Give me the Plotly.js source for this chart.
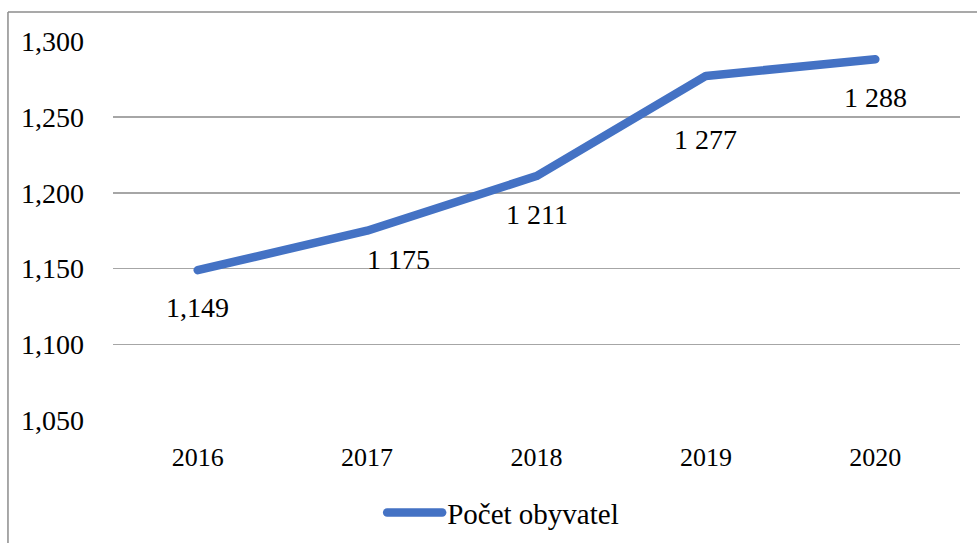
<!DOCTYPE html>
<html>
<head>
<meta charset="utf-8">
<script src="https://cdn.plot.ly/plotly-3.0.1.min.js"></script>
<style>
html,body{margin:0;padding:0;background:#fff;}
#chart{width:977px;height:543px;}
.js-line{stroke-linecap:round;stroke-linejoin:round;}
</style>
</head>
<body>
<div id="chart"></div>
<script>
const years = ['2016', '2017', '2018', '2019', '2020'];
const population = [1149, 1175, 1211, 1277, 1288];
const valueLabels = ['1,149', '1 175', '1 211', '1 277', '1 288'];
const yTicks = [1050, 1100, 1150, 1200, 1250, 1300];
const seriesName = 'Počet obyvatel';

const labelShiftX = [0, 31, 0, 0, 0];
const labelShiftY = [-37, -29, -38, -64, -38];

const font = '"Liberation Serif", "Times New Roman", Times, serif';
const blue = '#4472C4';

const trace = {
  x: years, y: population, type: 'scatter', mode: 'lines', name: seriesName,
  line: {color: blue, width: 8.5}, hoverinfo: 'skip'
};

const annotations = years.map((yr, i) => ({
  x: i, y: population[i], xref: 'x', yref: 'y',
  text: valueLabels[i], showarrow: false,
  xshift: labelShiftX[i], yshift: labelShiftY[i],
  font: {family: font, size: 28, color: '#000'}
}));

const layout = {
  width: 977, height: 543,
  margin: {l: 113, r: 17, t: 41, b: 122},
  paper_bgcolor: '#fff', plot_bgcolor: '#fff',
  font: {family: font},
  showlegend: true,
  legend: {
    orientation: 'h', xref: 'container', yref: 'container',
    x: 0.515, xanchor: 'center', y: 0.056, yanchor: 'middle',
    font: {family: font, size: 29, color: '#000'}, itemwidth: 55
  },
  xaxis: {
    type: 'category', range: [-0.5, years.length - 0.5],
    showgrid: false, zeroline: false, showline: false,
    ticks: '', ticklabelstandoff: 18,
    tickfont: {family: font, size: 26, color: '#000'}
  },
  yaxis: {
    range: [1049.6, 1300], tickvals: yTicks, tickformat: ',',
    showgrid: true, gridcolor: '#a6a6a6', gridwidth: 1.5,
    zeroline: false, showline: false, ticks: '', ticklabelstandoff: 28,
    tickfont: {family: font, size: 28, color: '#000'}
  },
  annotations: annotations,
  shapes: [
    {type: 'line', xref: 'paper', yref: 'paper', x0: -0.124, x1: 1.03, y0: 1.0763, y1: 1.0763,
     line: {color: '#8c8c8c', width: 1.5}},
    {type: 'line', xref: 'paper', yref: 'paper', x0: -0.124, x1: -0.124, y0: 1.0763, y1: -0.35,
     line: {color: '#8c8c8c', width: 1.5}}
  ]
};

Plotly.newPlot('chart', [trace], layout, {displayModeBar: false, staticPlot: true});
</script>
</body>
</html>
